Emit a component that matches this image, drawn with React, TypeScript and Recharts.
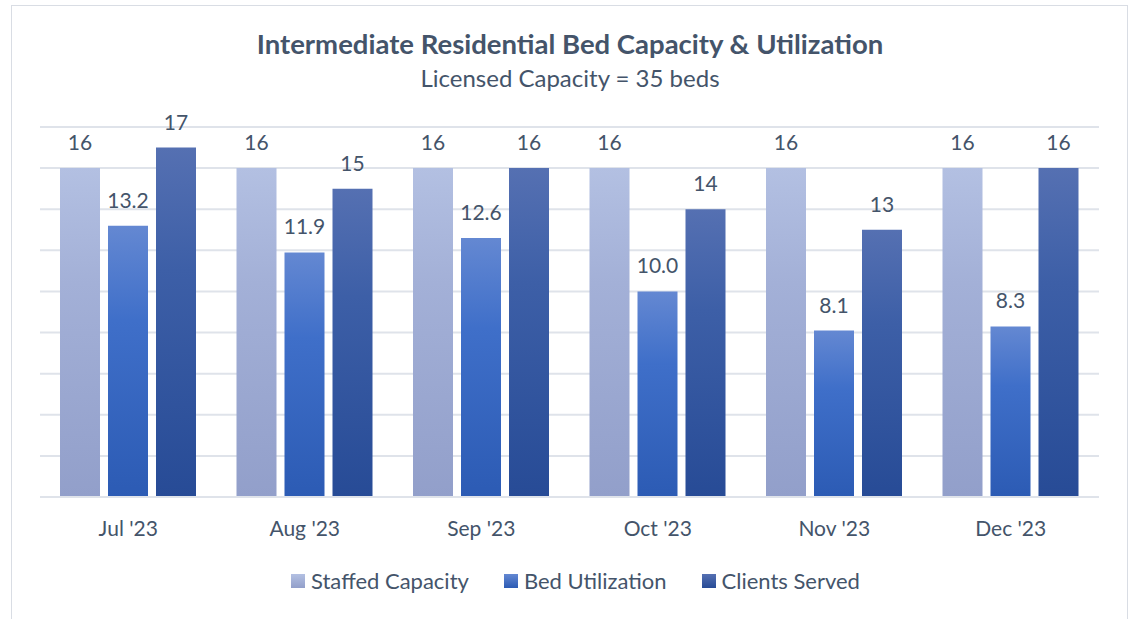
import React from "react";
import { Bar, BarChart, CartesianGrid, LabelList, XAxis, YAxis } from "recharts";

const months = ["Jul '23", "Aug '23", "Sep '23", "Oct '23", "Nov '23", "Dec '23"];
const staffedCapacity = [16, 16, 16, 16, 16, 16];
const bedUtilization = [13.2, 11.9, 12.6, 10.0, 8.1, 8.3];
const clientsServed = [17, 15, 16, 14, 13, 16];
const yTicks = [0, 2, 4, 6, 8, 10, 12, 14, 16, 18];

const TEXT = "#44546a";
const GRID = "#dfe3ea";
const FONT = "Lato, 'Open Sans', sans-serif";

const data = months.map((m, i) => ({
  month: m,
  staffed: staffedCapacity[i],
  bed: bedUtilization[i],
  clients: clientsServed[i],
}));

const series = [
  { key: "staffed", name: "Staffed Capacity", top: "#b3c0e2", mid: "#a3b0d7", bottom: "#929fca", fmt: (v: number) => String(v) },
  { key: "bed", name: "Bed Utilization", top: "#6488d2", mid: "#3f6fc9", bottom: "#2c5bb4", fmt: (v: number) => v.toFixed(1) },
  { key: "clients", name: "Clients Served", top: "#5570b2", mid: "#3d5fa7", bottom: "#274b96", fmt: (v: number) => String(v) },
];

function LegendBox() {
  return (
    <div style={{ display: "flex", justifyContent: "center", fontFamily: FONT, fontSize: 22, color: TEXT }}>
      {series.map((s, i) => (
        <span key={s.key} style={{ display: "inline-flex", alignItems: "center", marginLeft: i ? 35 : 0 }}>
          <span
            style={{
              display: "inline-block", width: 14, height: 14, marginRight: 6,
              background: `linear-gradient(${s.top}, ${s.bottom})`,
            }}
          />
          {s.name}
        </span>
      ))}
    </div>
  );
}

export default function App() {
  return (
    <div style={{ position: "absolute", left: 0, top: 0, width: 1129, height: 619, background: "#fff", overflow: "hidden" }}>
      <div style={{ position: "absolute", left: 11, top: 5, width: 1117, height: 640, border: "1px solid #d9dde4", boxSizing: "border-box" }} />
      <div style={{ position: "absolute", left: 0, width: 1140, top: 26, textAlign: "center", fontFamily: FONT, color: TEXT }}>
        <div style={{ fontSize: 27.5, fontWeight: 700, lineHeight: "36px" }}>Intermediate Residential Bed Capacity &amp; Utilization</div>
        <div style={{ fontSize: 24, lineHeight: "32px" }}>Licensed Capacity = 35 beds</div>
      </div>
      <BarChart
        width={1129}
        height={619}
        data={data}
        margin={{ top: 127, right: 30, left: 40, bottom: 92 }}
        barCategoryGap={20}
        barGap={8}
        style={{ position: "absolute", left: 0, top: 0 }}
      >
        <defs>
          {series.map((s) => (
            <linearGradient key={s.key} id={`g-${s.key}`} x1="0" y1="0" x2="0" y2="1">
              <stop offset="0%" stopColor={s.top} />
              <stop offset="35%" stopColor={s.mid} />
              <stop offset="100%" stopColor={s.bottom} />
            </linearGradient>
          ))}
        </defs>
        <CartesianGrid vertical={false} stroke={GRID} strokeWidth={2} />
        <YAxis hide domain={[0, 18]} ticks={yTicks} />
        <XAxis
          dataKey="month"
          axisLine={{ stroke: GRID, strokeWidth: 2 }}
          tickLine={false}
          tickSize={0}
          tickMargin={24}
          tick={{ fill: TEXT, fontSize: 21, fontFamily: FONT }}
        />
        {series.map((s) => (
          <Bar key={s.key} dataKey={s.key} name={s.name} fill={`url(#g-${s.key})`} isAnimationActive={false}>
            <LabelList
              dataKey={s.key}
              position="top"
              offset={18}
              formatter={(v: any) => s.fmt(Number(v))}
              style={{ fill: TEXT, fontSize: 21, fontFamily: FONT }}
            />
          </Bar>
        ))}
      </BarChart>
      <div style={{ position: "absolute", left: 11, width: 1129, top: 567 }}>
        <LegendBox />
      </div>
    </div>
  );
}
